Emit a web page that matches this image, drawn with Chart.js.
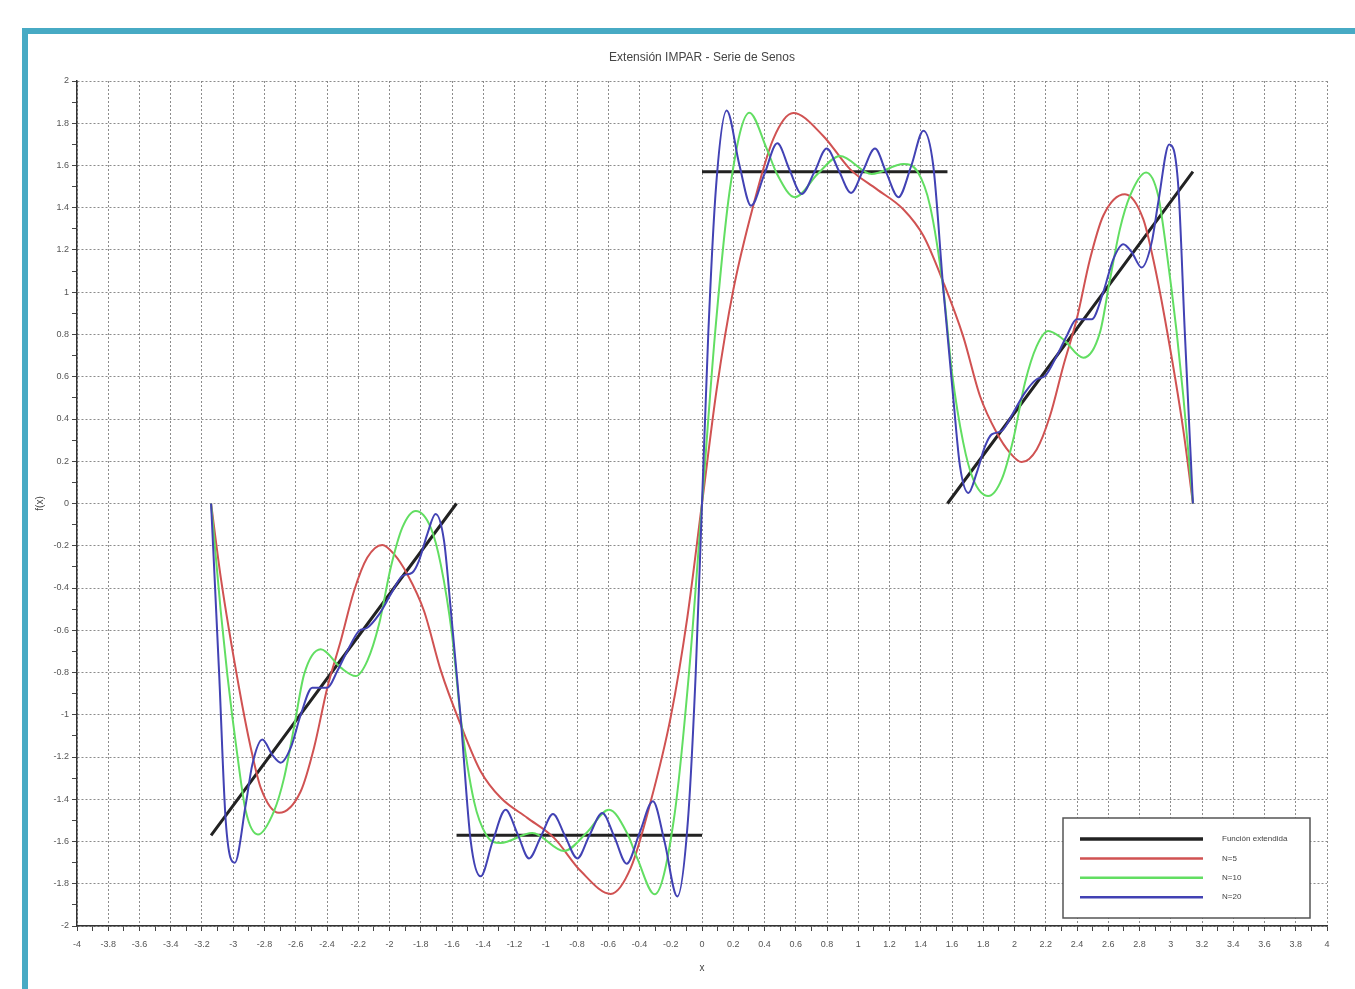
<!DOCTYPE html>
<html lang="es">
<head>
<meta charset="utf-8">
<title>Extensión IMPAR - Serie de Senos</title>
<script src="https://cdn.jsdelivr.net/npm/chart.js@4.4.1/dist/chart.umd.min.js"></script>
<style>
  html, body { margin: 0; padding: 0; background: #fff; }
  #marco { position: absolute; left: 22px; top: 28px; width: 1333px; height: 961px;
           border-top: 6px solid #47aac4; border-left: 6px solid #47aac4; box-sizing: border-box; }
  #caja { position: absolute; left: 0; top: 0; width: 1355px; height: 989px; }
</style>
</head>
<body>
<div id="marco"></div>
<div id="caja"><canvas id="grafica"></canvas></div>
<script>
// funcion extendida (impar), tramos separados por null
var xFun = [-3.142, -1.571, -1.571, -1.571, 0, 0, 0, 1.571, 1.571, 1.571, 3.142];
var yFun = [-1.571, 0, null, -1.571, -1.571, null, 1.571, 1.571, null, 0, 1.571];

// N=5
var xN5 = [-3.142,-3.08,-2.963,-2.888,-2.824,-2.707,-2.568,-2.483,-2.398,-2.312,-2.227,-2.142,-2.046,-1.971,-1.886,-1.779,-1.672,-1.545,-1.417,-1.288,-1.118,-0.947,-0.776,-0.584,-0.456,-0.328,-0.2,-0.094,
           0,0.094,0.2,0.328,0.456,0.584,0.776,0.947,1.118,1.288,1.417,1.545,1.672,1.779,1.886,1.971,2.046,2.142,2.227,2.312,2.398,2.483,2.568,2.707,2.824,2.888,2.963,3.08,3.142];
var yN5 = [0,-0.35,-0.872,-1.156,-1.346,-1.464,-1.362,-1.156,-0.872,-0.65,-0.414,-0.256,-0.196,-0.24,-0.335,-0.509,-0.79,-1.046,-1.267,-1.393,-1.488,-1.583,-1.74,-1.848,-1.725,-1.41,-1.01,-0.54,
           0,0.54,1.01,1.41,1.725,1.848,1.74,1.583,1.488,1.393,1.267,1.046,0.79,0.509,0.335,0.24,0.196,0.256,0.414,0.65,0.872,1.156,1.362,1.464,1.346,1.156,0.872,0.35,0];

// N=10
var xN10 = [-3.142,-3.08,-3.038,-2.974,-2.92,-2.842,-2.739,-2.675,-2.611,-2.547,-2.44,-2.312,-2.216,-2.142,-2.067,-1.992,-1.918,-1.832,-1.736,-1.672,-1.6,-1.545,-1.459,-1.38,-1.29,-1.086,-0.883,-0.74,-0.595,-0.48,-0.414,-0.303,-0.179,-0.083,
            0,0.083,0.179,0.303,0.414,0.48,0.595,0.74,0.883,1.086,1.29,1.38,1.459,1.545,1.6,1.672,1.736,1.832,1.918,1.992,2.067,2.142,2.216,2.312,2.44,2.547,2.611,2.675,2.739,2.842,2.92,2.974,3.038,3.08,3.142];
var yN10 = [0,-0.51,-0.81,-1.19,-1.456,-1.567,-1.456,-1.3,-1.06,-0.81,-0.69,-0.777,-0.817,-0.745,-0.572,-0.303,-0.114,-0.035,-0.114,-0.288,-0.62,-1.01,-1.41,-1.57,-1.607,-1.56,-1.645,-1.56,-1.45,-1.56,-1.68,-1.85,-1.49,-0.8,
            0,0.8,1.49,1.85,1.68,1.56,1.45,1.56,1.645,1.56,1.607,1.57,1.41,1.01,0.62,0.288,0.114,0.035,0.114,0.303,0.572,0.745,0.817,0.777,0.69,0.81,1.06,1.3,1.456,1.567,1.456,1.19,0.81,0.51,0];

// N=20
var xN20 = [-3.142,-3.09,-3.048,-2.99,-2.92,-2.878,-2.814,-2.75,-2.696,-2.632,-2.568,-2.494,-2.398,-2.334,-2.27,-2.195,-2.142,-2.067,-1.992,-1.918,-1.854,-1.811,-1.758,-1.705,-1.651,-1.609,-1.545,-1.48,-1.417,-1.34,-1.257,-1.18,-1.107,-1.03,-0.954,-0.876,-0.798,-0.72,-0.638,-0.56,-0.482,-0.4,-0.314,-0.24,-0.158,-0.09,-0.04,
            0,0.04,0.09,0.158,0.24,0.314,0.4,0.482,0.56,0.638,0.72,0.798,0.876,0.954,1.03,1.107,1.18,1.257,1.34,1.417,1.48,1.545,1.609,1.651,1.705,1.758,1.811,1.854,1.918,1.992,2.067,2.142,2.195,2.27,2.334,2.398,2.494,2.568,2.632,2.696,2.75,2.814,2.878,2.92,2.99,3.048,3.09,3.142];
var yN20 = [0,-0.81,-1.504,-1.7,-1.425,-1.236,-1.117,-1.19,-1.227,-1.156,-1.0,-0.872,-0.872,-0.793,-0.698,-0.603,-0.588,-0.525,-0.43,-0.343,-0.327,-0.27,-0.145,-0.05,-0.177,-0.493,-1.01,-1.6,-1.765,-1.6,-1.45,-1.565,-1.68,-1.575,-1.47,-1.575,-1.68,-1.57,-1.465,-1.58,-1.705,-1.56,-1.41,-1.6,-1.86,-1.5,-0.8,
            0,0.8,1.5,1.86,1.6,1.41,1.56,1.705,1.58,1.465,1.57,1.68,1.575,1.47,1.575,1.68,1.565,1.45,1.6,1.765,1.6,1.01,0.493,0.177,0.05,0.145,0.27,0.327,0.343,0.43,0.525,0.588,0.603,0.698,0.793,0.872,0.872,1.0,1.156,1.227,1.19,1.117,1.236,1.425,1.7,1.504,0.81,0];

var etiquetas = ['Función extendida', 'N=5', 'N=10', 'N=20'];
var colores = ['#222222', 'rgb(208,82,82)', 'rgb(98,222,98)', 'rgb(66,66,180)'];

var fuente = "'Liberation Sans Narrow', 'Liberation Sans', Arial, sans-serif";
var gris = 'rgba(120,120,120,0.85)';

function puntos(xs, ys) {
    return xs.map(function (x, i) { return { x: x, y: ys[i] }; });
}
function par(v) { return Math.round(v * 10) % 2 === 0; }
function rotulo(v) {
    var k = Math.round(v * 10);
    if (k % 2 !== 0) return '';
    return String(k / 10);
}

// leyenda dentro del area, abajo a la derecha
var leyenda = {
    id: 'leyenda',
    afterDraw: function (chart) {
        var ctx = chart.ctx, a = chart.chartArea;
        var w = 247, h = 100;
        var x0 = a.right - 17 - w, y0 = a.bottom - 8 - h;
        ctx.save();
        ctx.fillStyle = '#fff';
        ctx.fillRect(x0, y0, w, h);
        ctx.strokeStyle = '#555';
        ctx.lineWidth = 1.5;
        ctx.strokeRect(x0, y0, w, h);
        chart.data.datasets.forEach(function (ds, i) {
            var yy = y0 + 21 + i * 19.4;
            ctx.strokeStyle = ds.borderColor;
            ctx.lineWidth = i === 0 ? 3.5 : 2.5;
            ctx.beginPath();
            ctx.moveTo(x0 + 17, yy);
            ctx.lineTo(x0 + 140, yy);
            ctx.stroke();
            ctx.fillStyle = '#444';
            ctx.font = '8px ' + fuente;
            ctx.textBaseline = 'middle';
            ctx.fillText(ds.label, x0 + 159, yy);
        });
        ctx.restore();
    }
};

var eje = function (titulo) {
    return {
        type: 'linear',
        ticks: { stepSize: 0.1, autoSkip: false, maxRotation: 0, color: '#555',
                 font: { family: fuente, size: 9 }, callback: rotulo },
        grid: {
            color: function (c) { return c.tick && par(c.tick.value) ? gris : 'rgba(0,0,0,0)'; },
            lineWidth: 1,
            tickColor: '#444',
            tickLength: 5,
            tickBorderDash: []
        },
        border: { display: true, color: '#333', width: 1.5, dash: [2, 2] },
        title: { display: true, text: titulo, color: '#444', font: { family: fuente, size: 10 } }
    };
};

var ejeX = eje('x');
ejeX.min = -4; ejeX.max = 4;
ejeX.ticks.padding = 8;
ejeX.title.padding = { top: 0, bottom: 15 };
ejeX.afterFit = function (s) { s.height = 63; };

var ejeY = eje('f(x)');
ejeY.min = -2; ejeY.max = 2;
ejeY.ticks.padding = 3;
ejeY.title.padding = { top: 34, bottom: 0 };
ejeY.afterFit = function (s) { s.width = 77; };

var grafica = new Chart(document.getElementById('grafica'), {
    type: 'line',
    data: {
        datasets: [{
            label: etiquetas[0],
            data: puntos(xFun, yFun),
            borderColor: colores[0],
            borderWidth: 3,
            tension: 0,
            spanGaps: false,
            order: 4
        }, {
            label: etiquetas[1],
            data: puntos(xN5, yN5),
            borderColor: colores[1],
            borderWidth: 2,
            cubicInterpolationMode: 'monotone',
            order: 3
        }, {
            label: etiquetas[2],
            data: puntos(xN10, yN10),
            borderColor: colores[2],
            borderWidth: 2,
            cubicInterpolationMode: 'monotone',
            order: 2
        }, {
            label: etiquetas[3],
            data: puntos(xN20, yN20),
            borderColor: colores[3],
            borderWidth: 2,
            cubicInterpolationMode: 'monotone',
            order: 1
        }]
    },
    options: {
        responsive: true,
        maintainAspectRatio: false,
        animation: false,
        elements: { point: { radius: 0 } },
        layout: { padding: { left: 0, right: 28, top: 0, bottom: 0 } },
        plugins: {
            legend: { display: false },
            tooltip: { enabled: false },
            title: {
                display: true,
                text: 'Extensión IMPAR - Serie de Senos',
                fullSize: false,
                color: '#444',
                font: { family: "'Liberation Sans', Arial, sans-serif", size: 12, weight: 'normal' },
                padding: { top: 50, bottom: 16.6 }
            }
        },
        scales: { x: ejeX, y: ejeY }
    },
    plugins: [leyenda]
});
</script>
</body>
</html>
